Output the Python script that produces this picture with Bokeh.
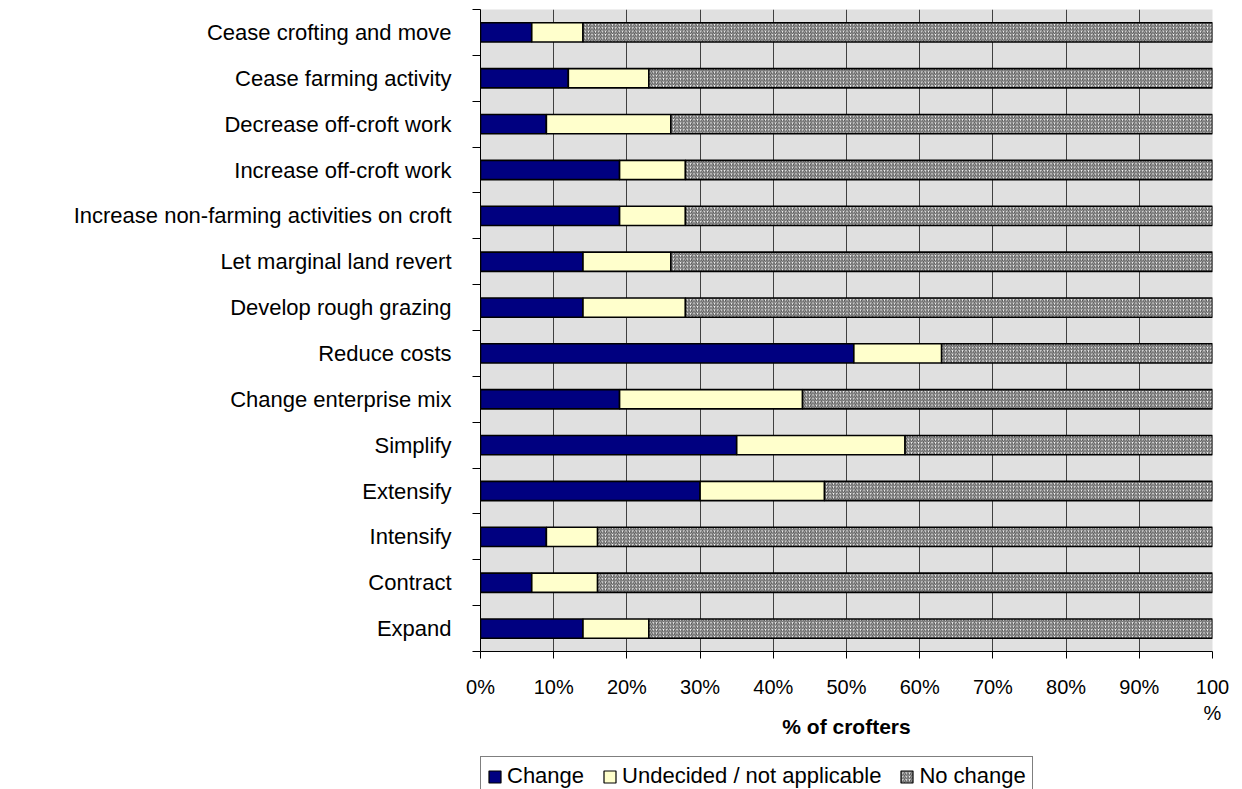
from bokeh.plotting import figure
from bokeh.layouts import column
from bokeh.models import (ColumnDataSource, Range1d, FixedTicker, Legend, LegendItem)
from bokeh.embed import file_html
from bokeh.resources import INLINE

categories = ["Cease crofting and move", "Cease farming activity", "Decrease off-croft work",
              "Increase off-croft work", "Increase non-farming activities on croft",
              "Let marginal land revert", "Develop rough grazing", "Reduce costs",
              "Change enterprise mix", "Simplify", "Extensify", "Intensify", "Contract", "Expand"]
change = [7, 12, 9, 19, 19, 14, 14, 51, 19, 35, 30, 9, 7, 14]
undecided = [7, 11, 17, 9, 9, 12, 14, 12, 25, 23, 17, 7, 9, 9]
no_change = [86, 77, 74, 72, 72, 74, 72, 37, 56, 42, 53, 84, 84, 77]
series_names = ["Change", "Undecided / not applicable", "No change"]
x_ticks = [0, 10, 20, 30, 40, 50, 60, 70, 80, 90, 100]
x_tick_labels = ["0%", "10%", "20%", "30%", "40%", "50%", "60%", "70%", "80%", "90%", "100\n%"]

n = len(categories)
ypos = [n - i - 0.5 for i in range(n)]
src = ColumnDataSource(dict(y=ypos, cat=categories, change=change,
                            undecided=undecided, no_change=no_change))
stack_cols = ["change", "undecided", "no_change"]

FONT = "Liberation Sans"
COLORS = ["#000080", "#ffffcc", "white"]
HATCH = dict(hatch_pattern="right_diagonal_line", hatch_color="#505050",
             hatch_scale=3.4, hatch_weight=1.1)


def add_bars(fig, lw):
    rs = fig.hbar_stack(stack_cols, y="y", height=0.42, source=src,
                        fill_color=COLORS, line_color="black", line_width=lw)
    for k, v in HATCH.items():
        setattr(rs[2].glyph, k, v)
    return rs


p = figure(width=1242, height=756, x_range=Range1d(0, 100), y_range=Range1d(0, n),
           output_backend="svg", toolbar_location=None,
           min_border_left=480, min_border_right=30, min_border_top=9, min_border_bottom=105)
p.background_fill_color = "#e0e0e0"
p.border_fill_color = "white"
p.outline_line_color = None

rs = add_bars(p, 1.6)

# grid
p.ygrid.visible = False
p.xgrid.ticker = FixedTicker(ticks=x_ticks)
p.xgrid.grid_line_color = "#404040"
p.xgrid.grid_line_width = 1

# x axis
xa = p.xaxis[0]
xa.ticker = FixedTicker(ticks=x_ticks)
xa.major_label_overrides = {t: l for t, l in zip(x_ticks, x_tick_labels)}
xa.minor_tick_line_color = None
xa.major_tick_out = 7
xa.major_tick_in = 0
xa.axis_line_color = "black"
xa.major_tick_line_color = "black"
xa.major_label_text_font = FONT
xa.major_label_text_font_size = "20px"
xa.major_label_text_color = "black"
xa.major_label_standoff = 17
xa.axis_label = "% of crofters"
xa.axis_label_text_font = FONT
xa.axis_label_text_font_style = "bold"
xa.axis_label_text_font_size = "21px"
xa.axis_label_text_color = "black"
xa.axis_label_standoff = -12

# y axis
ya = p.yaxis[0]
ya.ticker = FixedTicker(ticks=ypos, minor_ticks=list(range(n + 1)))
ya.major_label_overrides = {y: c for y, c in zip(ypos, categories)}
ya.major_tick_out = 0
ya.major_tick_in = 0
ya.minor_tick_out = 8
ya.minor_tick_in = 0
ya.minor_tick_line_color = "black"
ya.axis_line_color = "black"
ya.major_label_text_font = FONT
ya.major_label_text_font_size = "22px"
ya.major_label_text_color = "black"
ya.major_label_standoff = 21

# legend strip: same series placed far outside the view, only the legend shows
pl = figure(width=1242, height=33, x_range=Range1d(1000, 1100), y_range=Range1d(-100, -99),
            output_backend="svg", toolbar_location=None,
            x_axis_location=None, y_axis_location=None,
            min_border_left=480, min_border_right=30, min_border_top=0, min_border_bottom=0)
pl.grid.visible = False
pl.outline_line_color = None
pl.background_fill_color = "white"
pl.border_fill_color = "white"
lr = add_bars(pl, 1.2)

legend = Legend(items=[LegendItem(label=series_names[i], renderers=[lr[i]]) for i in range(3)],
                orientation="horizontal", location="top_left")
legend.border_line_color = "black"
legend.border_line_width = 1
legend.label_text_font = FONT
legend.label_text_font_size = "22px"
legend.label_text_color = "black"
legend.glyph_width = 15
legend.glyph_height = 15
legend.label_standoff = 5
legend.spacing = 18
legend.padding = 6
legend.margin = 0
legend.background_fill_alpha = 1
pl.add_layout(legend)

layout = column(p, pl, spacing=0)
open("out.html", "w").write(file_html(layout, INLINE))
